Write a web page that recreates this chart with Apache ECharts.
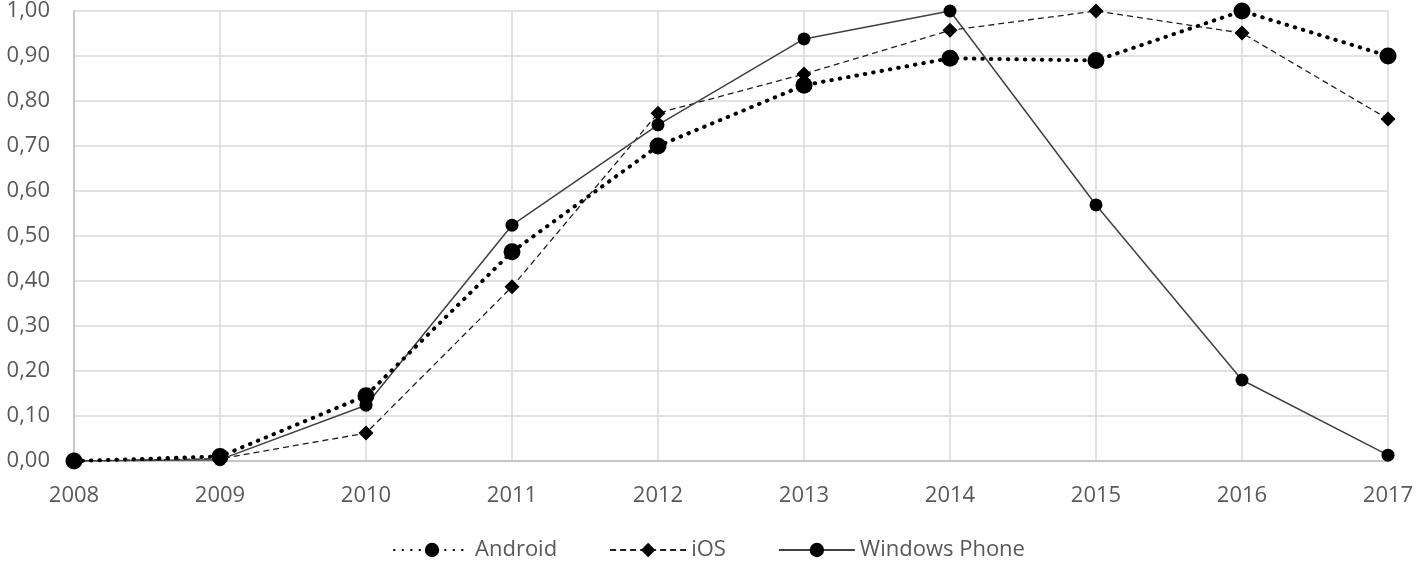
<!DOCTYPE html>
<html>
<head>
<meta charset="utf-8">
<script src="https://cdn.jsdelivr.net/npm/echarts@6/dist/echarts.min.js"></script>
<style>
html,body{margin:0;padding:0;background:#fff;}
#chart{width:1418px;height:568px;}
</style>
</head>
<body>
<div id="chart"></div>
<script>
const years = ['2008','2009','2010','2011','2012','2013','2014','2015','2016','2017'];
const android = [0.00, 0.01, 0.145, 0.465, 0.70, 0.835, 0.895, 0.89, 1.00, 0.90];
const ios = [0.00, 0.005, 0.062, 0.387, 0.773, 0.86, 0.957, 1.00, 0.951, 0.76];
const windowsPhone = [0.00, 0.003, 0.124, 0.524, 0.747, 0.938, 1.00, 0.569, 0.18, 0.013];

const chart = echarts.init(document.getElementById('chart'));
const font = '"Open Sans", "Noto Sans", sans-serif';
chart.setOption({
  animation: false,
  backgroundColor: '#ffffff',
  grid: {left: 74, right: 30, top: 11, bottom: 107, containLabel: false},
  legend: {
    bottom: 2,
    left: 'center',
    itemWidth: 76,
    itemHeight: 18,
    itemGap: 52,
    textStyle: {fontFamily: font, fontSize: 22, color: '#595959'},
    data: ['Android', 'iOS', 'Windows Phone']
  },
  xAxis: {
    type: 'category',
    data: years,
    boundaryGap: false,
    axisLine: {lineStyle: {color: '#bfbfbf', width: 1.5}},
    axisTick: {show: false},
    axisLabel: {fontFamily: font, fontSize: 22, color: '#595959', margin: 24},
    splitLine: {show: true, lineStyle: {color: '#d9d9d9', width: 1.5}}
  },
  yAxis: {
    type: 'value',
    min: 0, max: 1, interval: 0.1,
    axisLine: {show: true, lineStyle: {color: '#bfbfbf', width: 1.5}},
    axisTick: {show: false},
    axisLabel: {
      fontFamily: font, fontSize: 22, color: '#595959', margin: 24,
      formatter: v => v.toFixed(2).replace('.', ',')
    },
    splitLine: {lineStyle: {color: '#d9d9d9', width: 1.5}}
  },
  series: [
    {
      name: 'Android', type: 'line', data: android,
      symbol: 'circle', symbolSize: 17,
      itemStyle: {color: '#000000'},
      lineStyle: {color: '#000000', width: 4, type: [0.5, 8], cap: 'round'},
      z: 3
    },
    {
      name: 'iOS', type: 'line', data: ios,
      symbol: 'diamond', symbolSize: 15,
      itemStyle: {color: '#000000'},
      lineStyle: {color: '#202020', width: 1.3, type: [6, 4]},
      z: 2
    },
    {
      name: 'Windows Phone', type: 'line', data: windowsPhone,
      symbol: 'circle', symbolSize: 13,
      itemStyle: {color: '#000000'},
      lineStyle: {color: '#404040', width: 1.5, type: 'solid'},
      z: 2
    }
  ]
});
</script>
</body>
</html>
